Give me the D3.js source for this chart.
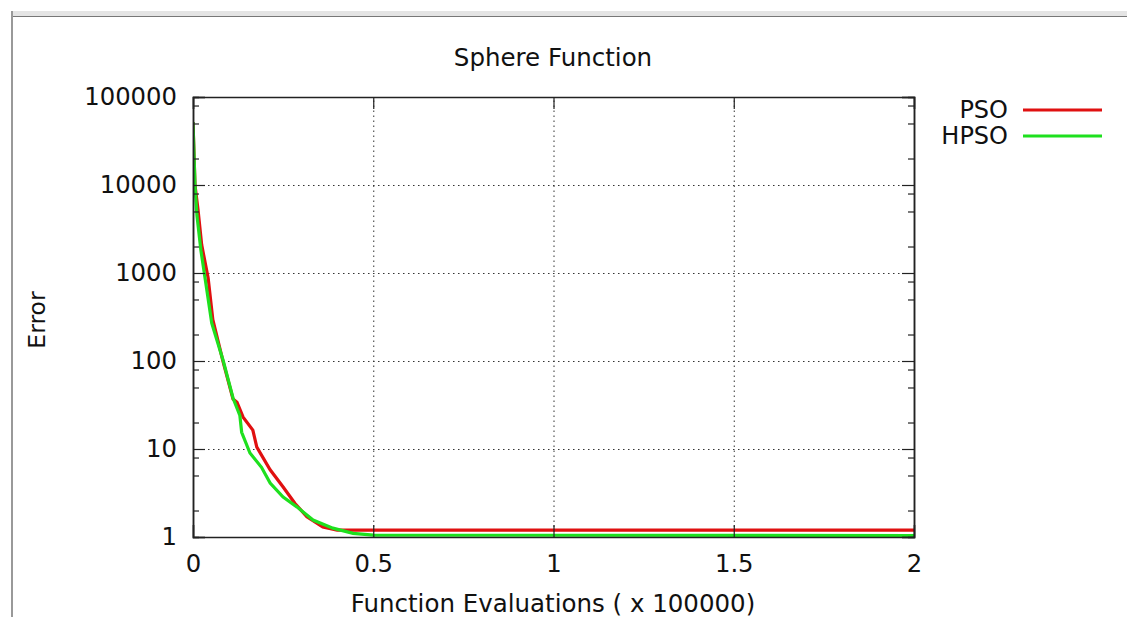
<!DOCTYPE html>
<html>
<head>
<meta charset="utf-8">
<script src="https://cdn.jsdelivr.net/npm/d3@7"></script>
<style>
  body { margin: 0; background: #fff; }
  text { font-family: "DejaVu Sans", sans-serif; fill: #111; }
</style>
</head>
<body>
<div id="chart"></div>
<script>
// x in units of 100000 evaluations, y = error
let psoX = [0, 0.0055, 0.014, 0.024, 0.042, 0.055, 0.083, 0.111, 0.122, 0.139, 0.166, 0.177, 0.214, 0.25, 0.283, 0.316, 0.36, 0.4, 2];
let psoY = [52000, 10000, 5200, 2100, 880, 295, 100, 37, 34, 23, 16.4, 10.5, 5.8, 3.7, 2.4, 1.7, 1.3, 1.2, 1.2];

let hpsoX = [0, 0.0055, 0.011, 0.022, 0.033, 0.052, 0.084, 0.111, 0.13, 0.135, 0.158, 0.19, 0.214, 0.25, 0.288, 0.333, 0.388, 0.444, 0.5, 2];
let hpsoY = [52000, 10000, 4500, 1800, 900, 270, 100, 38, 24, 15.5, 9, 6.2, 4.1, 2.85, 2.2, 1.56, 1.26, 1.1, 1.05, 1.04];

let xTicks = [0, 0.5, 1, 1.5, 2];
let yTicks = [1, 10, 100, 1000, 10000, 100000];
let yMinor = [2, 5, 8, 20, 50, 80, 200, 500, 800, 2000, 5000, 8000, 20000, 50000, 80000];

let seriesNames = ["PSO", "HPSO"];
let seriesColors = ["#e01010", "#1ee01e"];

let areaWidth = 1127;
let areaHeight = 617;
let border = { top: 97, left: 193, right: 213, bottom: 80 };
let width = areaWidth - border.left - border.right;
let height = areaHeight - border.top - border.bottom;
let fontSize = 24.3;

let svg = d3.select("#chart").append("svg")
  .attr("width", areaWidth)
  .attr("height", areaHeight);

// window frame around the plot
svg.append("rect").attr("x", 12).attr("y", 11).attr("width", areaWidth).attr("height", 5).attr("fill", "#e4e4e4");
svg.append("line").attr("x1", 12).attr("x2", areaWidth).attr("y1", 16.5).attr("y2", 16.5).attr("stroke", "#777");
svg.append("line").attr("x1", 12).attr("x2", 12).attr("y1", 11).attr("y2", areaHeight).attr("stroke", "#999").attr("stroke-width", 2);

let plotGroup = svg.append("g").attr("transform", `translate(${border.left}, ${border.top})`);

let xScale = d3.scaleLinear().domain([0, 2]).range([0, width]);
let yScale = d3.scaleLog().domain([1, 100000]).range([height, 0]);

// dotted grid
plotGroup.append("g").attr("class", "grid")
  .call(d3.axisLeft(yScale).tickValues(yTicks.slice(1, -1)).tickSize(-width).tickFormat(""))
  .call(g => g.select(".domain").remove());
plotGroup.append("g").attr("class", "grid")
  .attr("transform", `translate(0, ${height})`)
  .call(d3.axisBottom(xScale).tickValues(xTicks.slice(1, -1)).tickSize(-height).tickFormat(""))
  .call(g => g.select(".domain").remove());
plotGroup.selectAll(".grid line")
  .attr("stroke", "#333").attr("stroke-width", 1).attr("stroke-dasharray", "1.5,3.5");

// series
let line = d3.line().x(d => xScale(d[0])).y(d => yScale(d[1]));
svg.append("clipPath").attr("id", "clip").append("rect").attr("width", width).attr("height", height);

let lines = plotGroup.append("g").attr("clip-path", "url(#clip)");
lines.append("path").datum(d3.zip(psoX, psoY))
  .attr("d", line).attr("fill", "none").attr("stroke", seriesColors[0]).attr("stroke-width", 3.2);
lines.append("path").datum(d3.zip(hpsoX, hpsoY))
  .attr("d", line).attr("fill", "none").attr("stroke", seriesColors[1]).attr("stroke-width", 3.2);

// axes with inward ticks
let leftAx = plotGroup.append("g")
  .call(d3.axisLeft(yScale).tickValues(yTicks).tickSize(-12).tickPadding(16).tickFormat(d3.format("d")));
let leftMinor = plotGroup.append("g")
  .call(d3.axisLeft(yScale).tickValues(yMinor).tickSize(-6).tickFormat(""));
let rightAx = plotGroup.append("g").attr("transform", `translate(${width}, 0)`)
  .call(d3.axisRight(yScale).tickValues(yTicks).tickSize(-12).tickFormat(""));
let rightMinor = plotGroup.append("g").attr("transform", `translate(${width}, 0)`)
  .call(d3.axisRight(yScale).tickValues(yMinor).tickSize(-6).tickFormat(""));
let bottomAx = plotGroup.append("g").attr("transform", `translate(0, ${height})`)
  .call(d3.axisBottom(xScale).tickValues(xTicks).tickSize(-12).tickPadding(18).tickFormat(d3.format("")));
let topAx = plotGroup.append("g")
  .call(d3.axisTop(xScale).tickValues(xTicks).tickSize(-12).tickFormat(""));

[leftAx, leftMinor, rightAx, rightMinor, bottomAx, topAx].forEach(ax => {
  ax.attr("font-family", null).attr("font-size", null);
  ax.selectAll("line").attr("stroke", "#222").attr("stroke-width", 1.2);
  ax.select(".domain").attr("stroke", "#222").attr("stroke-width", 1.5);
  ax.selectAll("text").style("font-size", fontSize + "px").attr("fill", "#111");
});

// title and axis labels
svg.append("text").attr("x", 553).attr("y", 66).attr("text-anchor", "middle")
  .style("font-size", "24.5px").text("Sphere Function");
svg.append("text").attr("x", 553).attr("y", 612).attr("text-anchor", "middle")
  .style("font-size", "24.5px").text("Function Evaluations ( x 100000)");
svg.append("text").attr("transform", `translate(45, 320) rotate(-90)`).attr("text-anchor", "middle")
  .style("font-size", "23.5px").text("Error");

// legend
let legend = svg.append("g");
seriesNames.forEach((name, i) => {
  let ly = 110 + i * 26;
  legend.append("text").attr("x", 1008).attr("y", ly).attr("dy", "0.35em")
    .attr("text-anchor", "end").style("font-size", "24px").text(name);
  legend.append("line").attr("x1", 1023).attr("x2", 1102).attr("y1", ly).attr("y2", ly)
    .attr("stroke", seriesColors[i]).attr("stroke-width", 3.2);
});
</script>
</body>
</html>
